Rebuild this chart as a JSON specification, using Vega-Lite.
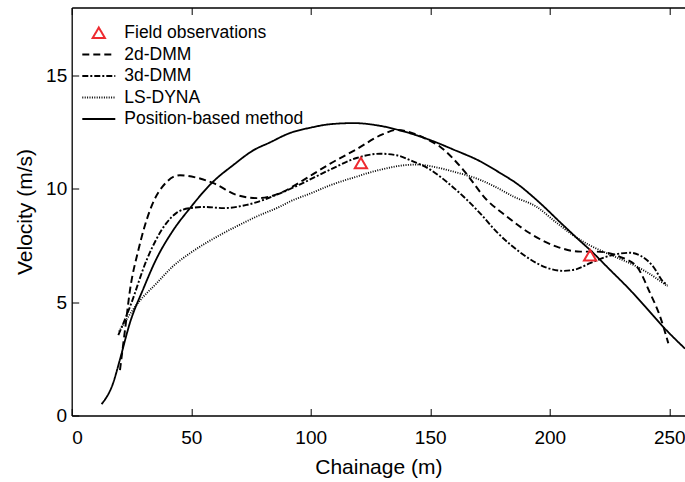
{
  "$schema": "https://vega.github.io/schema/vega-lite/v6.json",
  "width": 613.3,
  "height": 408,
  "autosize": "none",
  "padding": {"left": 71.7, "top": 7.5, "right": 0, "bottom": 66.5},
  "background": "white",
  "config": {
    "font": "Liberation Sans",
    "view": {"stroke": null},
    "axis": {
      "domainColor": "black", "tickColor": "black", "labelColor": "black", "titleColor": "black",
      "labelFontSize": 19, "titleFontSize": 21, "titleFontWeight": "normal", "grid": false,
      "tickSize": -7, "domainWidth": 1.3, "tickWidth": 1, "labelPadding": 14
    },
    "legend": {
      "orient": "none", "legendX": 9.6, "legendY": 17.5, "padding": 0, "clipHeight": 16,
      "rowPadding": 3.5, "labelFontSize": 17.5, "labelColor": "black", "symbolSize": 1089,
      "labelOffset": 8, "symbolFillColor": "transparent", "labelLimit": 400
    }
  },
  "data": {
    "values": [
      {"series": "Field observations", "x": 121, "y": 11.13},
      {"series": "Field observations", "x": 216.9, "y": 7.06},

      {"series": "Position-based method", "x": 12.5, "y": 0.5},
      {"series": "Position-based method", "x": 17.4, "y": 1.45},
      {"series": "Position-based method", "x": 20, "y": 2.4},
      {"series": "Position-based method", "x": 24.4, "y": 4.1},
      {"series": "Position-based method", "x": 30, "y": 5.6},
      {"series": "Position-based method", "x": 35.4, "y": 6.9},
      {"series": "Position-based method", "x": 42, "y": 8.1},
      {"series": "Position-based method", "x": 49.5, "y": 9.15},
      {"series": "Position-based method", "x": 59, "y": 10.3},
      {"series": "Position-based method", "x": 67.6, "y": 11.05},
      {"series": "Position-based method", "x": 76, "y": 11.7},
      {"series": "Position-based method", "x": 83, "y": 12.05},
      {"series": "Position-based method", "x": 91, "y": 12.45},
      {"series": "Position-based method", "x": 100, "y": 12.7},
      {"series": "Position-based method", "x": 108, "y": 12.85},
      {"series": "Position-based method", "x": 118, "y": 12.9},
      {"series": "Position-based method", "x": 129, "y": 12.78},
      {"series": "Position-based method", "x": 140, "y": 12.5},
      {"series": "Position-based method", "x": 150, "y": 12.15},
      {"series": "Position-based method", "x": 160, "y": 11.72},
      {"series": "Position-based method", "x": 170.8, "y": 11.22},
      {"series": "Position-based method", "x": 180, "y": 10.65},
      {"series": "Position-based method", "x": 186, "y": 10.25},
      {"series": "Position-based method", "x": 194.6, "y": 9.5},
      {"series": "Position-based method", "x": 205.6, "y": 8.4},
      {"series": "Position-based method", "x": 212.7, "y": 7.7},
      {"series": "Position-based method", "x": 216.9, "y": 7.3},
      {"series": "Position-based method", "x": 225, "y": 6.45},
      {"series": "Position-based method", "x": 233.6, "y": 5.54},
      {"series": "Position-based method", "x": 240, "y": 4.8},
      {"series": "Position-based method", "x": 247.4, "y": 3.92},
      {"series": "Position-based method", "x": 256.6, "y": 2.95},

      {"series": "2d-DMM", "x": 20.2, "y": 2.0},
      {"series": "2d-DMM", "x": 22.3, "y": 3.77},
      {"series": "2d-DMM", "x": 24.4, "y": 5.54},
      {"series": "2d-DMM", "x": 27.9, "y": 7.3},
      {"series": "2d-DMM", "x": 32.8, "y": 9.07},
      {"series": "2d-DMM", "x": 39.7, "y": 10.3},
      {"series": "2d-DMM", "x": 45.3, "y": 10.6},
      {"series": "2d-DMM", "x": 52, "y": 10.5},
      {"series": "2d-DMM", "x": 59.3, "y": 10.25},
      {"series": "2d-DMM", "x": 69, "y": 9.73},
      {"series": "2d-DMM", "x": 77.4, "y": 9.59},
      {"series": "2d-DMM", "x": 87.2, "y": 9.81},
      {"series": "2d-DMM", "x": 95.6, "y": 10.3},
      {"series": "2d-DMM", "x": 101, "y": 10.65},
      {"series": "2d-DMM", "x": 108, "y": 11.1},
      {"series": "2d-DMM", "x": 119.2, "y": 11.75},
      {"series": "2d-DMM", "x": 130, "y": 12.4},
      {"series": "2d-DMM", "x": 136, "y": 12.6},
      {"series": "2d-DMM", "x": 142, "y": 12.48},
      {"series": "2d-DMM", "x": 148, "y": 12.22},
      {"series": "2d-DMM", "x": 154, "y": 11.87},
      {"series": "2d-DMM", "x": 163.8, "y": 10.84},
      {"series": "2d-DMM", "x": 173.6, "y": 9.52},
      {"series": "2d-DMM", "x": 182, "y": 8.78},
      {"series": "2d-DMM", "x": 191.7, "y": 8.04},
      {"series": "2d-DMM", "x": 202.9, "y": 7.45},
      {"series": "2d-DMM", "x": 212.7, "y": 7.23},
      {"series": "2d-DMM", "x": 219.7, "y": 7.23},
      {"series": "2d-DMM", "x": 229.4, "y": 7.0},
      {"series": "2d-DMM", "x": 236.4, "y": 6.57},
      {"series": "2d-DMM", "x": 242, "y": 5.4},
      {"series": "2d-DMM", "x": 246.2, "y": 4.36},
      {"series": "2d-DMM", "x": 249.6, "y": 3.19},

      {"series": "3d-DMM", "x": 19.5, "y": 3.55},
      {"series": "3d-DMM", "x": 24.4, "y": 4.8},
      {"series": "3d-DMM", "x": 31.4, "y": 6.87},
      {"series": "3d-DMM", "x": 39.7, "y": 8.5},
      {"series": "3d-DMM", "x": 44, "y": 8.95},
      {"series": "3d-DMM", "x": 49.5, "y": 9.15},
      {"series": "3d-DMM", "x": 56, "y": 9.2},
      {"series": "3d-DMM", "x": 63.5, "y": 9.15},
      {"series": "3d-DMM", "x": 73.2, "y": 9.29},
      {"series": "3d-DMM", "x": 87.2, "y": 9.8},
      {"series": "3d-DMM", "x": 95.6, "y": 10.2},
      {"series": "3d-DMM", "x": 108, "y": 10.84},
      {"series": "3d-DMM", "x": 119.2, "y": 11.36},
      {"series": "3d-DMM", "x": 129, "y": 11.55},
      {"series": "3d-DMM", "x": 136, "y": 11.48},
      {"series": "3d-DMM", "x": 143, "y": 11.2},
      {"series": "3d-DMM", "x": 150, "y": 10.85},
      {"series": "3d-DMM", "x": 157, "y": 10.3},
      {"series": "3d-DMM", "x": 163.9, "y": 9.66},
      {"series": "3d-DMM", "x": 170.8, "y": 8.93},
      {"series": "3d-DMM", "x": 177.8, "y": 8.1},
      {"series": "3d-DMM", "x": 184, "y": 7.5},
      {"series": "3d-DMM", "x": 191.7, "y": 6.9},
      {"series": "3d-DMM", "x": 198, "y": 6.55},
      {"series": "3d-DMM", "x": 205.7, "y": 6.38},
      {"series": "3d-DMM", "x": 211, "y": 6.45},
      {"series": "3d-DMM", "x": 216.9, "y": 6.72},
      {"series": "3d-DMM", "x": 226.6, "y": 7.09},
      {"series": "3d-DMM", "x": 233.6, "y": 7.18},
      {"series": "3d-DMM", "x": 238, "y": 7.05},
      {"series": "3d-DMM", "x": 243.3, "y": 6.57},
      {"series": "3d-DMM", "x": 247.5, "y": 5.9},
      {"series": "3d-DMM", "x": 249.3, "y": 5.75},

      {"series": "LS-DYNA", "x": 19.8, "y": 3.7},
      {"series": "LS-DYNA", "x": 23, "y": 4.25},
      {"series": "LS-DYNA", "x": 28, "y": 5.0},
      {"series": "LS-DYNA", "x": 35.6, "y": 5.84},
      {"series": "LS-DYNA", "x": 42, "y": 6.55},
      {"series": "LS-DYNA", "x": 49.5, "y": 7.16},
      {"series": "LS-DYNA", "x": 56, "y": 7.6},
      {"series": "LS-DYNA", "x": 63.4, "y": 8.04},
      {"series": "LS-DYNA", "x": 70, "y": 8.4},
      {"series": "LS-DYNA", "x": 77.4, "y": 8.78},
      {"series": "LS-DYNA", "x": 87.2, "y": 9.22},
      {"series": "LS-DYNA", "x": 91.3, "y": 9.44},
      {"series": "LS-DYNA", "x": 100, "y": 9.8},
      {"series": "LS-DYNA", "x": 108, "y": 10.15},
      {"series": "LS-DYNA", "x": 118, "y": 10.5},
      {"series": "LS-DYNA", "x": 129, "y": 10.84},
      {"series": "LS-DYNA", "x": 140, "y": 11.05},
      {"series": "LS-DYNA", "x": 145, "y": 11.07},
      {"series": "LS-DYNA", "x": 150, "y": 11.0},
      {"series": "LS-DYNA", "x": 160, "y": 10.75},
      {"series": "LS-DYNA", "x": 170.8, "y": 10.4},
      {"series": "LS-DYNA", "x": 177, "y": 10.1},
      {"series": "LS-DYNA", "x": 184.8, "y": 9.66},
      {"series": "LS-DYNA", "x": 194.6, "y": 9.2},
      {"series": "LS-DYNA", "x": 202.9, "y": 8.5},
      {"series": "LS-DYNA", "x": 212.7, "y": 7.75},
      {"series": "LS-DYNA", "x": 216.9, "y": 7.5},
      {"series": "LS-DYNA", "x": 225.2, "y": 7.1},
      {"series": "LS-DYNA", "x": 236.4, "y": 6.57},
      {"series": "LS-DYNA", "x": 241, "y": 6.3},
      {"series": "LS-DYNA", "x": 249.3, "y": 5.7}
    ]
  },
  "layer": [
    {
      "transform": [{"filter": "datum.series != 'Field observations'"}],
      "mark": {"type": "line", "interpolate": "monotone", "clip": true},
      "encoding": {
        "x": {"field": "x", "type": "quantitative", "scale": {"domain": [0, 256.6], "nice": false, "zero": false},
              "axis": {"orient": "bottom", "values": [0, 50, 100, 150, 200, 250], "title": "Chainage (m)", "labelPadding": 20, "titlePadding": 9}},
        "y": {"field": "y", "type": "quantitative", "scale": {"domain": [0, 18], "nice": false},
              "axis": {"values": [0, 5, 10, 15], "title": "Velocity (m/s)", "labelPadding": 12, "titlePadding": 10}},
        "color": {"field": "series", "type": "nominal",
                  "scale": {"domain": ["Field observations", "2d-DMM", "3d-DMM", "LS-DYNA", "Position-based method"],
                            "range": ["#ee2a30", "black", "black", "black", "black"]},
                  "legend": {"title": null}},
        "strokeDash": {"field": "series", "type": "nominal",
                  "scale": {"domain": ["Field observations", "2d-DMM", "3d-DMM", "LS-DYNA", "Position-based method"],
                            "range": [[1, 0], [7, 4], [6, 2, 2, 2], [1, 1.4], [1, 0]]},
                  "legend": {"title": null}},
        "strokeWidth": {"field": "series", "type": "nominal",
                  "scale": {"domain": ["Field observations", "2d-DMM", "3d-DMM", "LS-DYNA", "Position-based method"],
                            "range": [2, 1.8, 2, 1.5, 2]},
                  "legend": {"title": null}}
      }
    },
    {
      "transform": [{"filter": "datum.series == 'Field observations'"}],
      "mark": {"type": "point", "filled": false, "strokeWidth": 2, "size": 1089, "opacity": 1},
      "encoding": {
        "x": {"field": "x", "type": "quantitative",
              "axis": {"orient": "top", "values": [0, 50, 100, 150, 200, 250], "labels": false, "title": null}},
        "y": {"field": "y", "type": "quantitative"},
        "color": {"field": "series", "type": "nominal", "legend": {"title": null}},
        "shape": {"field": "series", "type": "nominal",
                  "scale": {"domain": ["Field observations", "2d-DMM", "3d-DMM", "LS-DYNA", "Position-based method"],
                            "range": ["M0,-0.33L0.37,0.3L-0.37,0.3Z", "stroke", "stroke", "stroke", "stroke"]},
                  "legend": {"title": null}}
      }
    }
  ],
  "resolve": {"axis": {"x": "independent"}}
}
